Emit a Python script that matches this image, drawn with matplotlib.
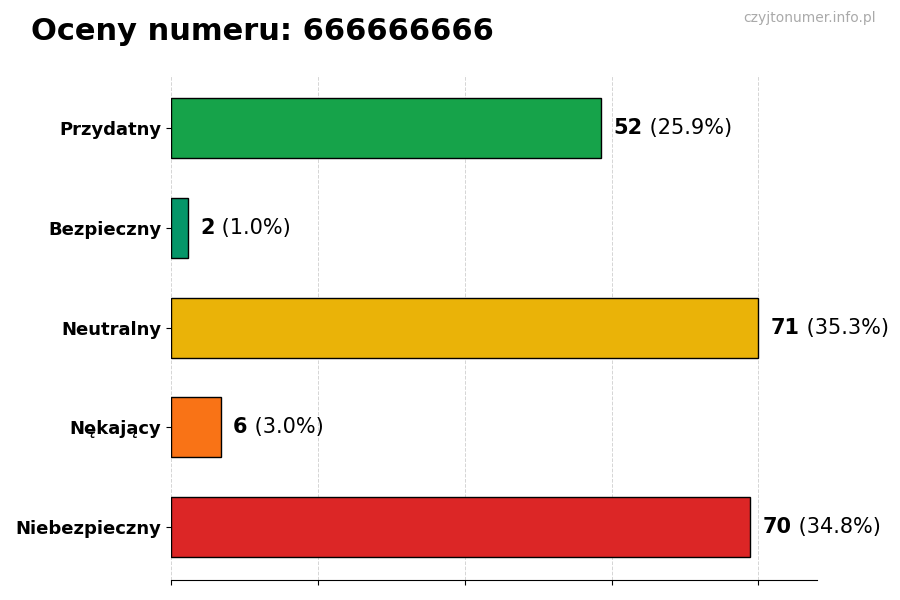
import numpy as np
import matplotlib.pyplot as plt

categories = ["Przydatny", "Bezpieczny", "Neutralny", "Nękający", "Niebezpieczny"]
counts = [52, 2, 71, 6, 70]
percents = [25.9, 1.0, 35.3, 3.0, 34.8]
colors = ["#16a34a", "#059669", "#eab308", "#f97316", "#dc2626"]

fig = plt.figure(figsize=(9, 6), dpi=100)
ax = fig.add_axes([0.19, 0.033, 0.718, 0.842])

ypos = np.arange(len(categories))[::-1]
ax.barh(ypos, counts, height=0.6, color=colors, edgecolor="black", linewidth=1, zorder=3)

xmax = max(counts) * 1.1
ax.set_xlim(0, xmax)
ax.set_xticks(np.linspace(0, max(counts), 5))
ax.set_xticklabels([])
ax.grid(axis="x", linestyle="--", color="#d5d5d5", linewidth=0.7, zorder=0)
ax.set_yticks(ypos)
ax.set_yticklabels(categories, fontsize=13, fontweight="bold")
for s in ["top", "right", "left"]:
    ax.spines[s].set_visible(False)

for y, c, p in zip(ypos, counts, percents):
    t = ax.annotate(f"{c}", (c, y), xytext=(9, 0), textcoords="offset points",
                    va="center", ha="left", fontsize=15, fontweight="bold")
    ax.annotate(f" ({p:.1f}%)", xycoords=t, xy=(1, 0.5), va="center", ha="left",
                fontsize=15)

fig.text(0.034, 0.947, "Oceny numeru: 666666666", fontsize=22, fontweight="bold",
         va="center", ha="left")
fig.text(0.973, 0.97, "czyjtonumer.info.pl", fontsize=10, color="#aaaaaa",
         va="center", ha="right")

fig.savefig("out.png", dpi=100)
